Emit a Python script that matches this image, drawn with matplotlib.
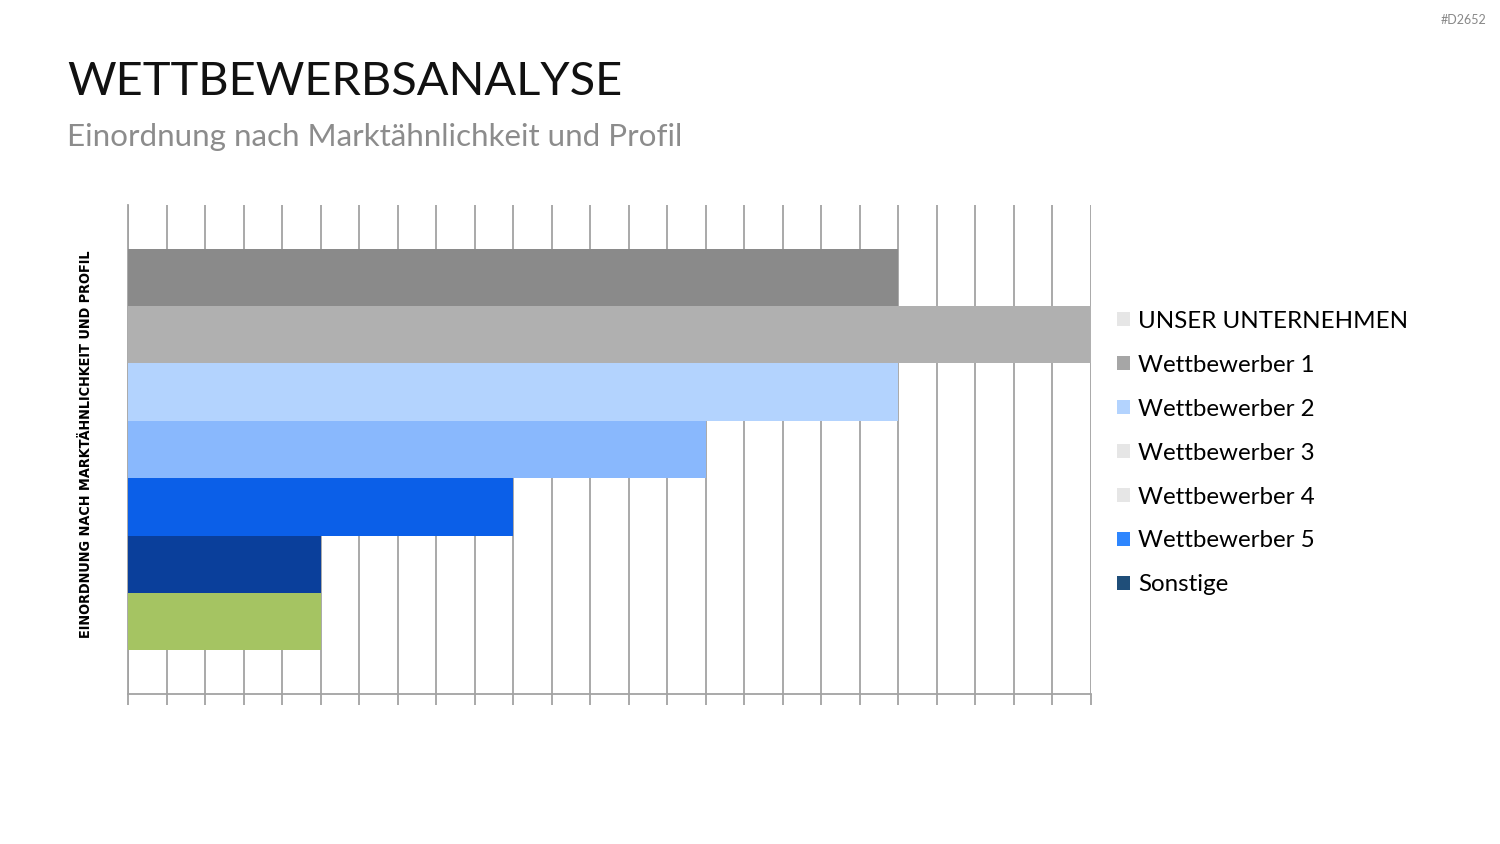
import matplotlib.pyplot as plt
from matplotlib.patches import Patch

# --- data ---
bar_values = [20, 25, 20, 15, 10, 5, 5]
bar_colors = ["#8a8a8a", "#b0b0b0", "#b3d3fe", "#89b8fd", "#0b5fe8", "#0a3f9b", "#a5c462"]

legend_labels = ["UNSER UNTERNEHMEN", "Wettbewerber 1", "Wettbewerber 2", "Wettbewerber 3",
                 "Wettbewerber 4", "Wettbewerber 5", "Sonstige"]
legend_colors = ["#e6e6e6", "#a6a6a6", "#b3d3fe", "#e6e6e6", "#e6e6e6", "#2e86fe", "#1f4e79"]

x_max = 25

plt.rcParams['font.family'] = ['Lato', 'DejaVu Sans']

fig = plt.figure(figsize=(15, 8.44), dpi=100)
ax = fig.add_axes([128 / 1500, 1 - 694 / 844, (1091 - 128) / 1500, (694 - 205) / 844])

ypos = list(range(len(bar_values)))
ax.barh(ypos, bar_values, height=1.0, color=bar_colors, zorder=3, linewidth=0)

ax.set_xlim(0, x_max)
ax.set_ylim(len(bar_values) - 0.5 + 0.76, -0.5 - 0.76)
ax.set_xticks(range(0, x_max + 1))
ax.set_xticklabels([])
ax.set_yticks([])
ax.grid(axis='x', color='#a3a3a3', linewidth=1.3, zorder=0)
ax.tick_params(axis='x', length=8, width=1.3, color='#a3a3a3')
for s in ['top', 'right']:
    ax.spines[s].set_visible(False)
for s in ['left', 'bottom']:
    ax.spines[s].set_color('#a3a3a3')
    ax.spines[s].set_linewidth(1.3)

# y label
fig.text(86 / 1500, 1 - 444 / 844, "EINORDNUNG NACH MARKTÄHNLICHKEIT UND PROFIL",
         rotation=90, ha='center', va='center', fontsize=10.4, fontweight='heavy',
         family='DejaVu Sans', fontstretch='condensed', color='#000000')

# legend
handles = [Patch(facecolor=c, edgecolor='none') for c in legend_colors]
fig.legend(handles, legend_labels, loc='upper left', bbox_to_anchor=(1107 / 1500, 1 - 301 / 844),
           frameon=False, fontsize=17.4, handlelength=0.55, handleheight=0.55,
           handletextpad=0.35, labelspacing=0.95, borderaxespad=0)

# titles
fig.text(67 / 1500, 1 - 82 / 844, "WETTBEWERBSANALYSE", fontsize=33.8, color='#111111',
         ha='left', va='center')
fig.text(67 / 1500, 1 - 137 / 844, "Einordnung nach Marktähnlichkeit und Profil", fontsize=22.6,
         color='#8c8c8c', ha='left', va='center')
fig.text(1486 / 1500, 1 - 20 / 844, "#D2652", fontsize=9, color='#888888', ha='right', va='center')

fig.savefig("out.png", dpi=100)
